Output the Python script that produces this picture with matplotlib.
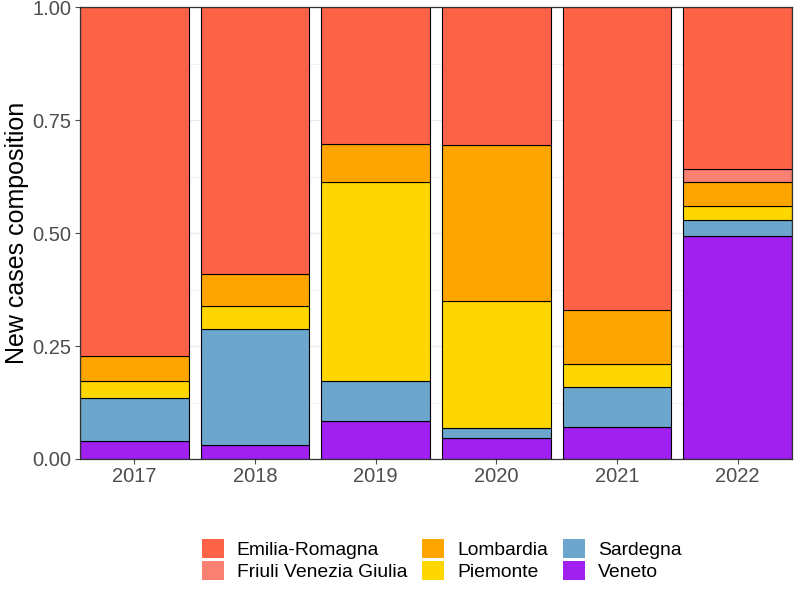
import matplotlib
matplotlib.use("Agg")
import matplotlib.pyplot as plt
import numpy as np
from matplotlib.patches import Patch

plt.rcParams['font.family'] = ['Liberation Sans', 'DejaVu Sans']

years = ["2017", "2018", "2019", "2020", "2021", "2022"]
regions = ["Emilia-Romagna", "Friuli Venezia Giulia", "Lombardia", "Piemonte", "Sardegna", "Veneto"]
colors = ["#FF6347", "#FA8072", "#FFA500", "#FFD700", "#6CA6CD", "#A020F0"]

emilia = [0.771, 0.591, 0.302, 0.304, 0.671, 0.359]
friuli = [0.0, 0.0, 0.0, 0.0, 0.0, 0.027]
lombardia = [0.057, 0.071, 0.086, 0.347, 0.119, 0.053]
piemonte = [0.038, 0.051, 0.440, 0.281, 0.051, 0.031]
sardegna = [0.095, 0.257, 0.087, 0.022, 0.089, 0.037]
veneto = [0.039, 0.030, 0.085, 0.046, 0.070, 0.493]

series = {"Emilia-Romagna": emilia, "Friuli Venezia Giulia": friuli, "Lombardia": lombardia,
          "Piemonte": piemonte, "Sardegna": sardegna, "Veneto": veneto}

fig = plt.figure(figsize=(8, 6), dpi=100)
ax = fig.add_axes([0.1, 0.235, 0.89, 0.753])

x = np.arange(1, len(years) + 1)
data = np.array([series[r] for r in regions], dtype=float)
data = data / data.sum(axis=0)

bottom = np.zeros(len(years))
for i in range(len(regions) - 1, -1, -1):
    vals = data[i]
    mask = vals > 0
    ax.bar(x[mask], vals[mask], bottom=bottom[mask], width=0.9, color=colors[i],
           edgecolor="black", linewidth=0.8, zorder=3)
    bottom += vals

ax.set_xlim(0.55, 6.45)
ax.set_ylim(0, 1)
ax.set_xticks(x)
ax.set_xticklabels(years)
ax.set_yticks([0, 0.25, 0.5, 0.75, 1.0])
ax.set_yticklabels(["0.00", "0.25", "0.50", "0.75", "1.00"])
ax.set_yticks([0.125, 0.375, 0.625, 0.875], minor=True)
ax.grid(True, which="major", color="#EBEBEB", linewidth=0.9, zorder=0)
ax.grid(True, which="minor", axis="y", color="#EBEBEB", linewidth=0.5, zorder=0)
ax.tick_params(axis="both", which="major", labelsize=14.5, colors="#4D4D4D", length=3.5, width=0.8,
               labelcolor="#4D4D4D", pad=2.5)
ax.tick_params(axis="both", which="minor", length=0)
for s in ax.spines.values():
    s.set_color("#333333")
    s.set_linewidth(0.9)
    s.set_zorder(5)
ax.set_ylabel("New cases composition", fontsize=18, color="black")
ax.yaxis.set_label_coords(-0.0716, 0.5)

handles = [Patch(facecolor=c, edgecolor="none", label=r) for r, c in zip(regions, colors)]
leg = fig.legend(handles=handles, loc="center", bbox_to_anchor=(0.552, 0.067), ncol=3,
                 frameon=False, fontsize=13.9, handlelength=1.14, handleheight=1.14,
                 labelspacing=0.12, columnspacing=0.8, handletextpad=0.65)

fig.savefig("out.png", dpi=100)
